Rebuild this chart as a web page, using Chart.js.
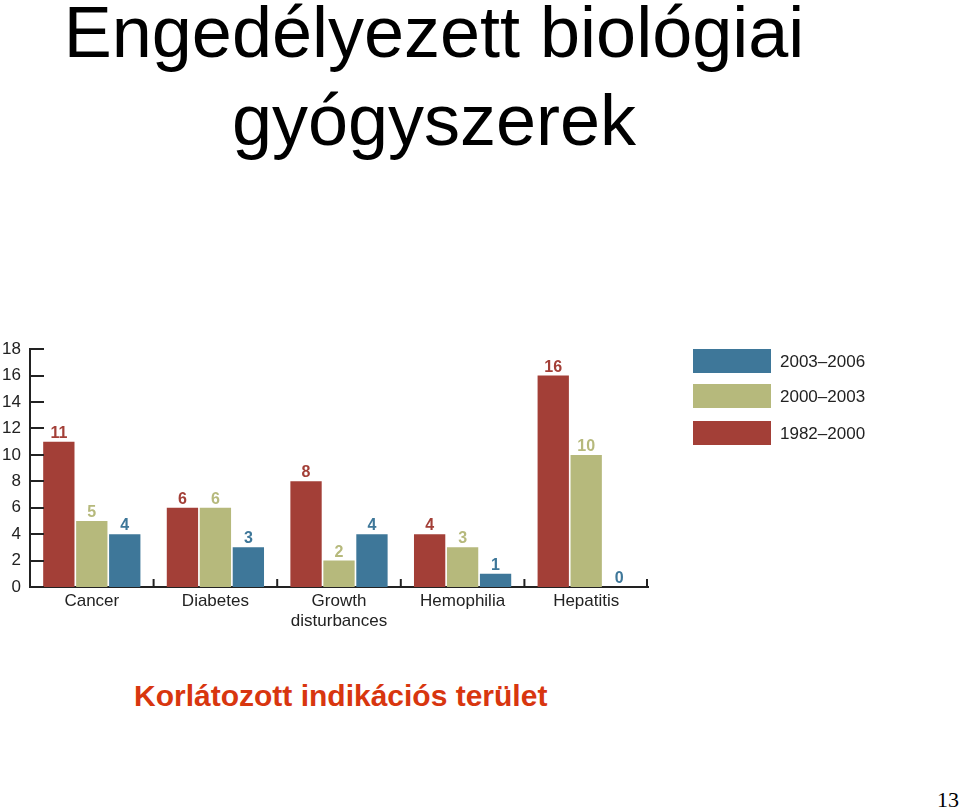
<!DOCTYPE html>
<html>
<head>
    <title>Engedélyezett biológiai gyógyszerek</title>
    <script src="https://cdn.jsdelivr.net/npm/chart.js"></script>
    <style>
        body { margin: 0; background: #fff; width: 960px; height: 810px; position: relative; overflow: hidden; font-family: "Liberation Sans", Arial, sans-serif; }
        .title { position: absolute; left: 0; width: 868px; top: -12px; text-align: center; font-size: 72px; line-height: 88px; color: #000; }
        .sub { position: absolute; left: 134px; top: 681px; font-size: 30px; line-height: 30px; font-weight: bold; color: #d8360f; }
        .page { position: absolute; left: 937px; top: 789px; font-family: "Liberation Serif", "Times New Roman", serif; font-size: 22px; line-height: 22px; color: #000; }
        #chartBox { position: absolute; left: 0; top: 330px; width: 900px; height: 300px; }
    </style>
</head>
<body>
    <div class="title">Engedélyezett biológiai<br>gyógyszerek</div>
    <div id="chartBox"><canvas id="drugChart"></canvas></div>
    <div class="sub">Korlátozott indikációs terület</div>
    <div class="page">13</div>

    <script>
        const categories = ['Cancer', 'Diabetes', ['Growth', 'disturbances'], 'Hemophilia', 'Hepatitis'];
        const periods = ['1982–2000', '2000–2003', '2003–2006'];
        const approvals1982 = [11, 6, 8, 4, 16];
        const approvals2000 = [5, 6, 2, 3, 10];
        const approvals2003 = [4, 3, 4, 1, 0];
        const yTicks = [0, 2, 4, 6, 8, 10, 12, 14, 16, 18];
        const colors = ['#a33f37', '#b6b97c', '#3e7799'];

        // value labels, inside ticks, category ticks and legend
        const decorations = {
            id: 'decorations',
            afterDraw(chart) {
                const ctx = chart.ctx;
                const x = chart.scales.x, y = chart.scales.y;
                const area = chart.chartArea;
                ctx.save();
                ctx.strokeStyle = '#222';
                ctx.lineWidth = 2;
                // y ticks pointing inward
                yTicks.forEach(v => {
                    const py = Math.round(y.getPixelForValue(v));
                    ctx.beginPath();
                    ctx.moveTo(area.left, py);
                    ctx.lineTo(area.left + 14, py);
                    ctx.stroke();
                });
                // category boundary ticks pointing up
                for (let i = 0; i < categories.length; i++) {
                    const px = i < categories.length - 1
                        ? (x.getPixelForValue(i) + x.getPixelForValue(i + 1)) / 2
                        : area.right - 1;
                    ctx.beginPath();
                    ctx.moveTo(px, area.bottom);
                    ctx.lineTo(px, area.bottom - 8);
                    ctx.stroke();
                }
                // value labels
                ctx.font = 'bold 16px "Liberation Sans", Arial, sans-serif';
                ctx.textAlign = 'center';
                ctx.textBaseline = 'alphabetic';
                chart.data.datasets.forEach((ds, i) => {
                    ctx.fillStyle = ds.backgroundColor;
                    chart.getDatasetMeta(i).data.forEach((bar, j) => {
                        ctx.fillText(String(ds.data[j]), bar.x, bar.y - 4);
                    });
                });
                // legend, newest period on top
                ctx.font = '17px "Liberation Sans", Arial, sans-serif';
                ctx.textAlign = 'left';
                ctx.textBaseline = 'middle';
                const order = [2, 1, 0];
                const tops = [19, 54, 91];
                order.forEach((di, k) => {
                    const ds = chart.data.datasets[di];
                    ctx.fillStyle = ds.backgroundColor;
                    ctx.fillRect(693, tops[k], 78, 24);
                    ctx.fillStyle = '#222';
                    ctx.fillText(ds.label, 780, tops[k] + 13);
                });
                ctx.restore();
            }
        };

        const ctx = document.getElementById('drugChart').getContext('2d');
        const chart = new Chart(ctx, {
            type: 'bar',
            data: {
                labels: categories,
                datasets: [
                    { label: periods[0], data: approvals1982, backgroundColor: colors[0] },
                    { label: periods[1], data: approvals2000, backgroundColor: colors[1] },
                    { label: periods[2], data: approvals2003, backgroundColor: colors[2] }
                ]
            },
            options: {
                responsive: true,
                maintainAspectRatio: false,
                animation: false,
                layout: { padding: { top: 19, right: 252, left: 0, bottom: 0 } },
                datasets: { bar: { categoryPercentage: 0.8, barPercentage: 0.95 } },
                plugins: {
                    legend: { display: false },
                    tooltip: { enabled: false }
                },
                scales: {
                    x: {
                        grid: { display: false, drawTicks: false },
                        border: { display: true, color: '#222', width: 2 },
                        ticks: {
                            color: '#222',
                            padding: 4,
                            maxRotation: 0,
                            autoSkip: false,
                            font: { family: '"Liberation Sans", Arial, sans-serif', size: 17, lineHeight: 1.2 }
                        },
                        afterFit: s => { s.height = 43; }
                    },
                    y: {
                        min: 0,
                        max: 18,
                        grid: { display: false, drawTicks: false },
                        border: { display: true, color: '#222', width: 2 },
                        afterBuildTicks: s => { s.ticks = yTicks.map(v => ({ value: v })); },
                        ticks: {
                            color: '#222',
                            padding: 9,
                            font: { family: '"Liberation Sans", Arial, sans-serif', size: 17 }
                        },
                        afterFit: s => { s.width = 30; }
                    }
                }
            },
            plugins: [decorations]
        });
    </script>
</body>
</html>
